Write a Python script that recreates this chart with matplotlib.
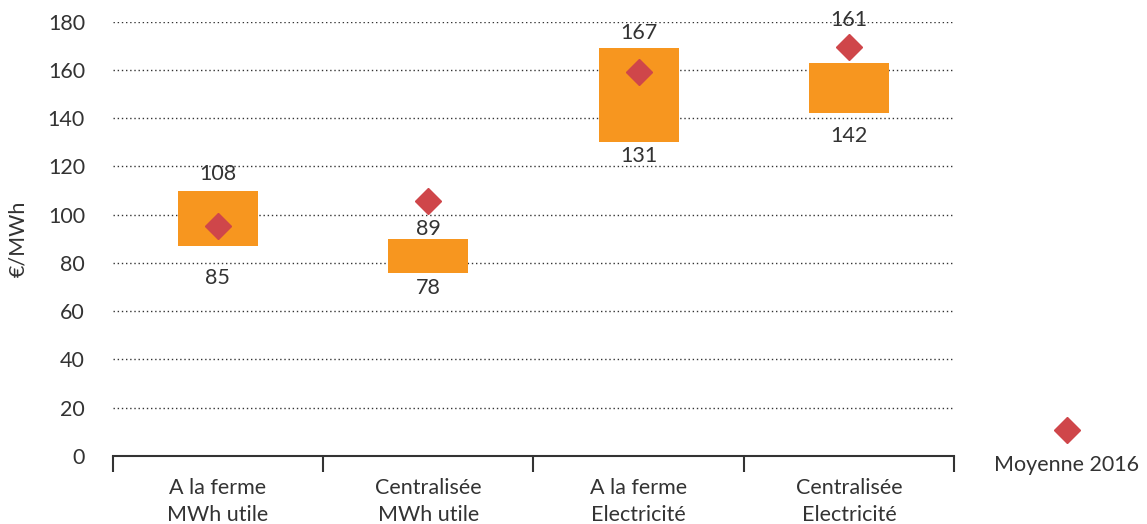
import numpy as np
import matplotlib.pyplot as plt
from matplotlib.lines import Line2D

plt.rcParams['font.family'] = ['Lato', 'DejaVu Sans']

# ================================================================
# 데이터
# ================================================================
categories = ['A la ferme\nMWh utile', 'Centralisée\nMWh utile',
              'A la ferme\nElectricité', 'Centralisée\nElectricité']
bar_low = [87, 76, 130, 142]
bar_high = [110, 90, 169, 163]
moyenne_2016 = [95.5, 105.5, 159, 169.5]
label_high = ['108', '89', '167', '161']
label_low = ['85', '78', '131', '142']
yticks = [0, 20, 40, 60, 80, 100, 120, 140, 160, 180]

# 스타일
orange = '#F7961F'
red = '#CF464A'
text_col = '#333333'
hi_offset = [12, 7, 11, 31]     # points above bar top
lo_offset = [-23, -11, -10, -16]  # points below bar bottom

# ================================================================
# 그림
# ================================================================
fig = plt.figure(figsize=(11.47, 5.24), dpi=100)
ax = fig.add_axes([0.0983, 0.1298, 0.7335, 0.829])

x = np.arange(len(categories))
heights = np.array(bar_high) - np.array(bar_low)
ax.bar(x, heights, bottom=bar_low, width=0.38, color=orange, zorder=2)
ax.plot(x, moyenne_2016, linestyle='none', marker='D', markersize=13,
        color=red, zorder=3)

for i in range(len(x)):
    ax.annotate(label_high[i], (x[i], bar_high[i]), xytext=(0, hi_offset[i]),
                textcoords='offset points', ha='center', va='center',
                fontsize=15.5, color=text_col, zorder=4)
    ax.annotate(label_low[i], (x[i], bar_low[i]), xytext=(0, lo_offset[i]),
                textcoords='offset points', ha='center', va='center',
                fontsize=15.5, color=text_col, zorder=4)

ax.set_xlim(-0.5, len(categories) - 0.5)
ax.set_ylim(0, 180)
ax.set_yticks(yticks)
ax.yaxis.grid(True, linestyle=(0, (1, 2)), color='#333333', linewidth=1.0, zorder=0)
ax.tick_params(axis='y', length=0, pad=20, labelsize=15.5, labelcolor=text_col)
ax.set_ylabel('€/MWh', fontsize=15.5, color=text_col, labelpad=14)

# x 축: 경계에 눈금, 가운데 라벨
ax.set_xticks(np.arange(-0.5, len(categories)), minor=False)
ax.set_xticklabels([], minor=False)
ax.set_xticks(x, minor=True)
ax.set_xticklabels(categories, minor=True, fontsize=15.5, color=text_col,
                   linespacing=1.45)
ax.tick_params(axis='x', which='major', length=11.5, width=1.5, color='#333333')
ax.tick_params(axis='x', which='minor', length=0, pad=16)

for s in ['top', 'right', 'left']:
    ax.spines[s].set_visible(False)
ax.spines['bottom'].set_color('#333333')
ax.spines['bottom'].set_linewidth(1.5)

# 범례 (마커 위, 텍스트 아래)
ax.add_line(Line2D([1.134], [0.06], transform=ax.transAxes, marker='D',
                   markersize=13, color=red, linestyle='none', clip_on=False))
ax.text(1.134, -0.02, 'Moyenne 2016', transform=ax.transAxes, ha='center',
        va='center', fontsize=15.5, color=text_col)

fig.savefig('out.png', dpi=100)
